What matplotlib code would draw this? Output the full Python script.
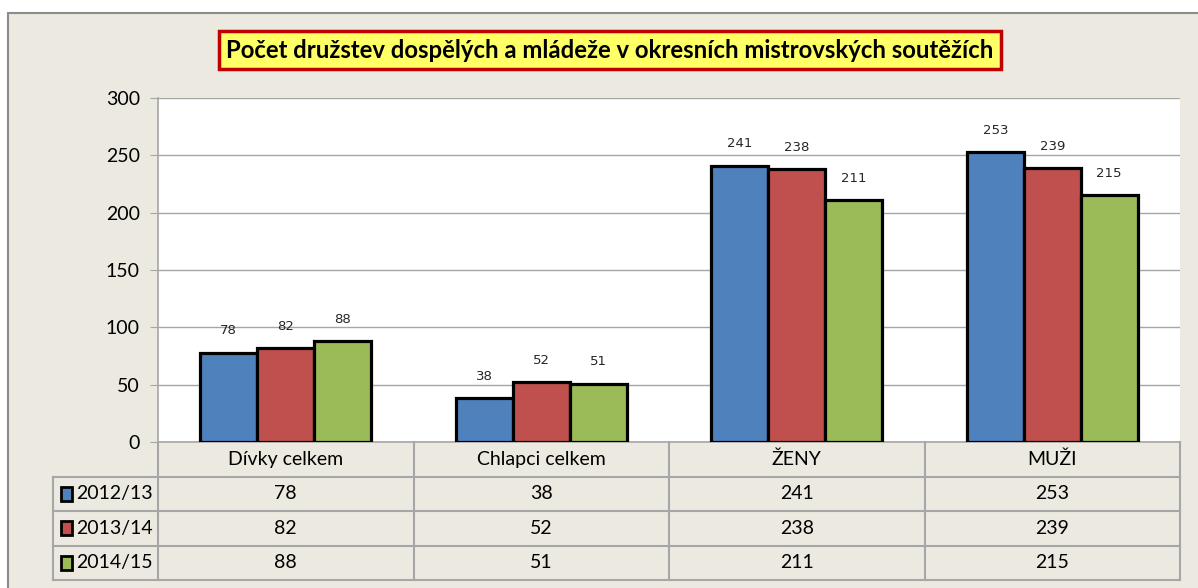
import matplotlib
matplotlib.use("Agg")
import matplotlib.pyplot as plt
from matplotlib.patches import Rectangle
import numpy as np

plt.rcParams['font.family'] = ['Lato', 'DejaVu Sans']

# ---------------------------------------------------------------------
# DATA
# ---------------------------------------------------------------------
categories = ["Dívky celkem", "Chlapci celkem", "ŽENY", "MUŽI"]
seasons = ["2012/13", "2013/14", "2014/15"]
v_2012 = [78, 38, 241, 253]
v_2013 = [82, 52, 238, 239]
v_2014 = [88, 51, 211, 215]
series = [v_2012, v_2013, v_2014]
colors = ["#4F81BD", "#C0504D", "#9BBB59"]
title = "Počet družstev dospělých a mládeže v okresních mistrovských soutěžích"

# ---------------------------------------------------------------------
# LAYOUT (pixels)
# ---------------------------------------------------------------------
W, H = 1198, 588
BG = "#ECE9E0"
GRID = "#A6A6A6"


def px(l, t, r, b):
    return [l / W, 1 - b / H, (r - l) / W, (b - t) / H]


fig = plt.figure(figsize=(W / 100, H / 100), dpi=100)
fig.patch.set_facecolor("white")
fig.patches.append(Rectangle((8 / W, -0.1), 1.2, 1 - 13 / H + 0.1,
                             transform=fig.transFigure, facecolor=BG,
                             edgecolor="#8C8C8C", lw=1.5, zorder=-10))

# main chart
ax = fig.add_axes(px(158, 98, 1180, 442))
ax.set_facecolor("white")
x = np.arange(len(categories))
bw = 0.223
for i, (vals, c) in enumerate(zip(series, colors)):
    bars = ax.bar(x + (i - 1) * bw, vals, bw, color=c, edgecolor="black",
                  lw=2.3, zorder=3)
    for b, v in zip(bars, vals):
        ax.annotate(str(v), (b.get_x() + b.get_width() / 2, v),
                    xytext=(0, 11), textcoords="offset points",
                    ha="center", va="bottom", fontsize=9.5,
                    family="DejaVu Sans", color="#262626")

ax.set_xlim(-0.5, 3.5)
ax.set_ylim(0, 300)
ax.set_yticks(range(0, 301, 50))
ax.set_xticks([])
ax.tick_params(axis="y", length=6, color=GRID, labelsize=14, pad=7)
ax.grid(axis="y", color=GRID, lw=1)
ax.set_axisbelow(True)
for s in ["top", "right"]:
    ax.spines[s].set_visible(False)
for s in ["left", "bottom"]:
    ax.spines[s].set_color(GRID)
    ax.spines[s].set_linewidth(1.2)

# data table
lead = 105 / 255.5
tax = fig.add_axes(px(53, 442, 1180, 580))
tax.set_xlim(-0.5 - lead, 3.5)
tax.set_ylim(4, 0)
tax.axis("off")
lk = dict(color=GRID, lw=1.5, clip_on=False)
for r in range(1, 5):
    tax.plot([-0.5 - lead, 3.5], [r, r], **lk)
tax.plot([-0.5 - lead, -0.5 - lead], [1, 4], **lk)
for k in range(len(categories) + 1):
    tax.plot([k - 0.5, k - 0.5], [0, 4], **lk)

for j, cat in enumerate(categories):
    tax.text(j, 0.5, cat, ha="center", va="center", fontsize=14)
for i, (s, vals, c) in enumerate(zip(seasons, series, colors)):
    y = i + 1.5
    tax.add_patch(Rectangle((-0.5 - lead + 0.03, y - 0.2), 0.045, 0.4,
                            facecolor=c, edgecolor="black", lw=2))
    tax.text(-0.5 - lead + 0.09, y, s, ha="left", va="center",
             fontsize=14)
    for j, v in enumerate(vals):
        tax.text(j, y, str(v), ha="center", va="center", fontsize=14)

fig.text(610 / W, 1 - 50 / H, title, ha="center", va="center",
         fontsize=17.2, fontweight="bold",
         bbox=dict(boxstyle="square,pad=0.3", facecolor="#FFFF66",
                   edgecolor="#C00000", lw=2.5))

fig.savefig("out.png", dpi=100)
